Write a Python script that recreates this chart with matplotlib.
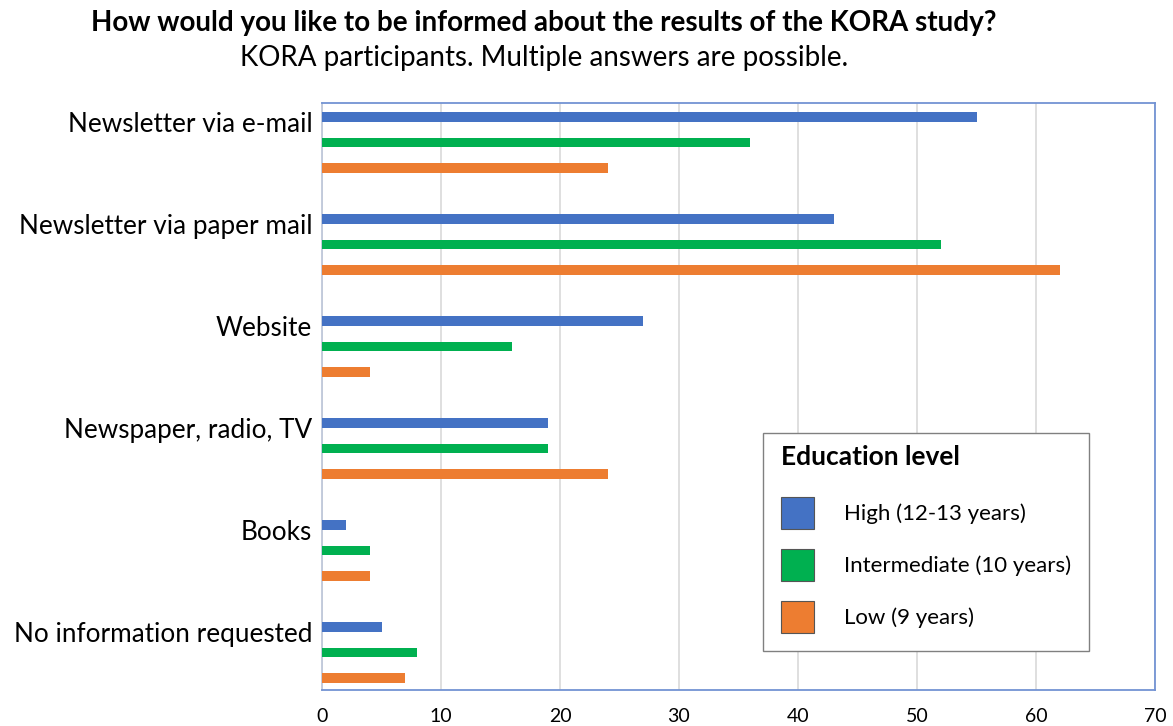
import matplotlib
matplotlib.use("Agg")
import matplotlib.pyplot as plt
from matplotlib.patches import Patch
from matplotlib.offsetbox import HPacker, DrawingArea
import numpy as np

plt.rcParams['font.family'] = ['Lato', 'DejaVu Sans']

categories = ["Newsletter via e-mail", "Newsletter via paper mail", "Website",
              "Newspaper, radio, TV", "Books", "No information requested"]
high = [55, 43, 27, 19, 2, 5]
intermediate = [36, 52, 16, 19, 4, 8]
low = [24, 62, 4, 24, 4, 7]
series_names = ["High (12-13 years)", "Intermediate (10 years)", "Low (9 years)"]
colors = ["#4472C4", "#00B050", "#ED7D31"]
xticks = [0, 10, 20, 30, 40, 50, 60, 70]

fig = plt.figure(figsize=(11.73, 7.26), dpi=100)
ax = fig.add_axes([322/1173, 1-690/726, (1155-322)/1173, (690-103)/726])

base = np.arange(len(categories)) * 4
for j, (vals, c) in enumerate(zip([high, intermediate, low], colors)):
    ax.barh(base + j, vals, height=0.36, color=c, zorder=3)

ax.set_xlim(0, 70)
ax.set_ylim(22.47, -0.55)
ax.set_xticks(xticks)
ax.set_xticklabels([str(t) for t in xticks], fontsize=14)
ax.set_yticks(base + 0.2)
ax.set_yticklabels(categories, fontsize=18.8)
ax.tick_params(axis='both', length=0)
ax.tick_params(axis='y', pad=7)
ax.tick_params(axis='x', pad=13)
ax.grid(axis='x', color='#D9D9D9', linewidth=1.2, zorder=0)
for s in ['top', 'right', 'bottom']:
    ax.spines[s].set_color('#7393D3')
    ax.spines[s].set_linewidth(1.3)
ax.spines['left'].set_color('#BFC8DA')
ax.spines['left'].set_linewidth(1.3)

handles = [Patch(facecolor=c, edgecolor='#555555', linewidth=0.8) for c in colors]
leg = ax.legend(handles, series_names, loc='upper left',
                bbox_to_anchor=(763/1173, 1-651/726, (1089-763)/1173, (651-433)/726),
                bbox_transform=fig.transFigure, mode='expand',
                fontsize=16, title="Education level",
                title_fontproperties={'weight': 'bold', 'size': 19},
                handlelength=1.5, handleheight=1.86, handletextpad=1.35,
                labelspacing=0.88, borderpad=0.55, fancybox=False,
                edgecolor='#808080', framealpha=1, alignment='left',
                borderaxespad=0)
leg.get_frame().set_linewidth(1.0)
leg.set_zorder(5)
extra = 4.0
leg._legend_handle_box.pad = extra
leg._legend_box.sep = 16 * 0.88 + 6 - extra
leg._legend_box._children[0] = HPacker(pad=0, sep=0,
                                       children=[DrawingArea(extra, 1), leg._legend_title_box])

fig.text(544/1173, 1-23/726, "How would you like to be informed about the results of the KORA study?",
         ha='center', va='center', fontsize=20, fontweight='bold')
fig.text(544/1173, 1-58/726, "KORA participants. Multiple answers are possible.",
         ha='center', va='center', fontsize=20)

fig.savefig("out.png", dpi=100)
